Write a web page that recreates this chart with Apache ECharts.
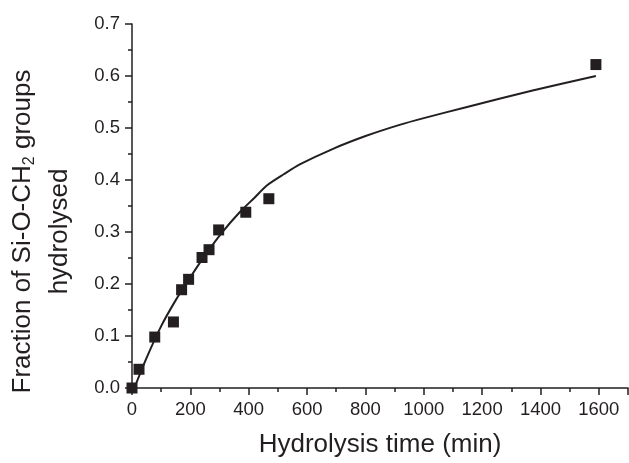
<!DOCTYPE html>
<html>
<head>
<meta charset="utf-8">
<script src="https://cdn.jsdelivr.net/npm/echarts@6/dist/echarts.min.js"></script>
<style>html,body{margin:0;padding:0;background:#fff}#c{width:629px;height:463px}</style>
</head>
<body>
<div id="c"></div>
<script>
// Measured data points (time in min, fraction hydrolysed)
var pointTimes = [0, 24, 78, 142, 170, 194, 240, 264, 297, 390, 469, 1590];
var pointValues = [0.000, 0.036, 0.098, 0.127, 0.189, 0.209, 0.251, 0.266, 0.304, 0.338, 0.364, 0.622];
// Fitted curve
var fitTimes = [8, 50, 100, 150, 200, 250, 307, 369, 420, 461, 520, 575, 689, 803, 917, 1000, 1145, 1373, 1590];
var fitValues = [0.000, 0.058, 0.119, 0.169, 0.213, 0.255, 0.298, 0.338, 0.366, 0.389, 0.411, 0.430, 0.460, 0.485, 0.506, 0.519, 0.540, 0.572, 0.600];
var yTicks = [0, 0.1, 0.2, 0.3, 0.4, 0.5, 0.6, 0.7];
var xTicks = [0, 200, 400, 600, 800, 1000, 1200, 1400, 1600];

var pts = pointTimes.map(function (t, i) { return [t, pointValues[i]]; });
var fit = fitTimes.map(function (t, i) { return [t, fitValues[i]]; });
var ink = '#231f20';
var font = '"Liberation Sans", Arial, sans-serif';

var chart = echarts.init(document.getElementById('c'));
chart.setOption({
  backgroundColor: '#fff',
  animation: false,
  grid: { left: 132, right: 1, top: 24, bottom: 72, containLabel: false },
  xAxis: {
    type: 'value', min: 0, max: 1700, interval: 200,
    axisLine: { show: true, lineStyle: { color: ink, width: 1.5 } },
    axisTick: { show: true, length: 7, lineStyle: { color: ink, width: 1.5 } },
    minorTick: { show: true, splitNumber: 2, length: 4, lineStyle: { color: ink, width: 1.5 } },
    splitLine: { show: false },
    axisLabel: { showMaxLabel: false, color: ink, fontSize: 18.5, fontFamily: font, margin: 12,
      formatter: function (v) { return String(v); } },
    name: 'Hydrolysis time (min)', nameLocation: 'middle', nameGap: 44,
    nameTextStyle: { color: ink, fontSize: 26, fontFamily: font }
  },
  yAxis: {
    type: 'value', min: 0, max: 0.7, interval: 0.1,
    axisLine: { show: true, lineStyle: { color: ink, width: 1.5 } },
    axisTick: { show: true, length: 7, lineStyle: { color: ink, width: 1.5 } },
    minorTick: { show: true, splitNumber: 2, length: 4, lineStyle: { color: ink, width: 1.5 } },
    splitLine: { show: false },
    axisLabel: { color: ink, fontSize: 18.5, fontFamily: font, margin: 12,
      formatter: function (v) { return v.toFixed(1); } }
  },
  graphic: [
    {
      type: 'text', left: 10, top: 'middle', rotation: Math.PI / 2,
      style: {
        text: '{n|Fraction of Si-O-CH}{s|2}{n| groups}',
        rich: {
          n: { fontSize: 26, fontFamily: font, fill: ink },
          s: { fontSize: 16, fontFamily: font, fill: ink, padding: [14, 0, 0, 0] }
        }
      }
    },
    {
      type: 'text', left: 47, top: 'middle', rotation: Math.PI / 2,
      style: { text: 'hydrolysed', fontSize: 26, fontFamily: font, fill: ink }
    }
  ],
  series: [
    {
      type: 'line', data: fit, smooth: 0.25, showSymbol: false, symbol: 'none',
      lineStyle: { color: ink, width: 2 }, z: 2
    },
    {
      type: 'scatter', data: pts, symbol: 'rect', symbolSize: 11,
      itemStyle: { color: ink, opacity: 1 }, z: 3
    }
  ]
});
</script>
</body>
</html>
